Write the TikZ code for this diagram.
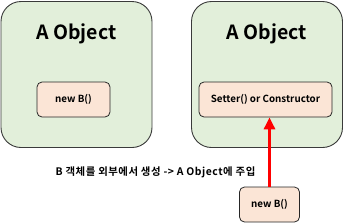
\documentclass[tikz,border=0pt]{standalone}
\usepackage{fontspec}
\setmainfont{Noto Sans CJK KR}[BoldFont={Noto Sans CJK KR Bold}]
\usetikzlibrary{positioning, arrows.meta}
\definecolor{objgreen}{HTML}{E2EFDA}
\definecolor{partpeach}{HTML}{FBE5D6}
\definecolor{edgegray}{HTML}{3A3A3A}

\begin{document}
\begin{tikzpicture}[x=1pt, y=-1pt,
    objbox/.style={draw=edgegray, line width=0.9pt, fill=objgreen, rounded corners=20pt,
        minimum width=151pt, minimum height=146pt, inner sep=0pt},
    objtitle/.style={font=\bfseries\fontsize{19.5}{22}\selectfont},
    partbox/.style={draw=black!85, line width=0.8pt, fill=partpeach, rounded corners=5pt,
        minimum height=35pt, inner sep=0pt, font=\bfseries\fontsize{9.8}{11}\selectfont},
    inject/.style={red, line width=3pt, -{Triangle[length=12pt, width=11pt]}}]
    \useasboundingbox (0,0) rectangle (343,223);
    % left: A creates B itself
    \node[objbox] (leftA) at (76.5,74.5) {};
    \node[objtitle] (leftTitle) at (76.5,34) {A Object};
    \node[partbox, minimum width=73pt] (leftNew) at (73.5,99.5) {new B()};
    % right: B is handed to A
    \node[objbox] (rightA) at (267,74.5) {};
    \node[objtitle] (rightTitle) at (267,34) {A Object};
    \node[partbox, minimum width=133pt] (rightSet) at (265.5,99.5) {Setter() or Constructor\hspace{5pt}};
    \node[partbox, minimum width=60pt] (outerNew) at (269.5,204.5) {new B()};
    \node[font=\bfseries\fontsize{10.4}{12}\selectfont\addfontfeature{LetterSpace=5}] (caption) at (155.5,172.5)
        {B 객체를 외부에서 생성 -> A Object에 주입};
    \draw[inject] (outerNew.north) -- (outerNew.north |- rightSet.south);
\end{tikzpicture}
\end{document}
